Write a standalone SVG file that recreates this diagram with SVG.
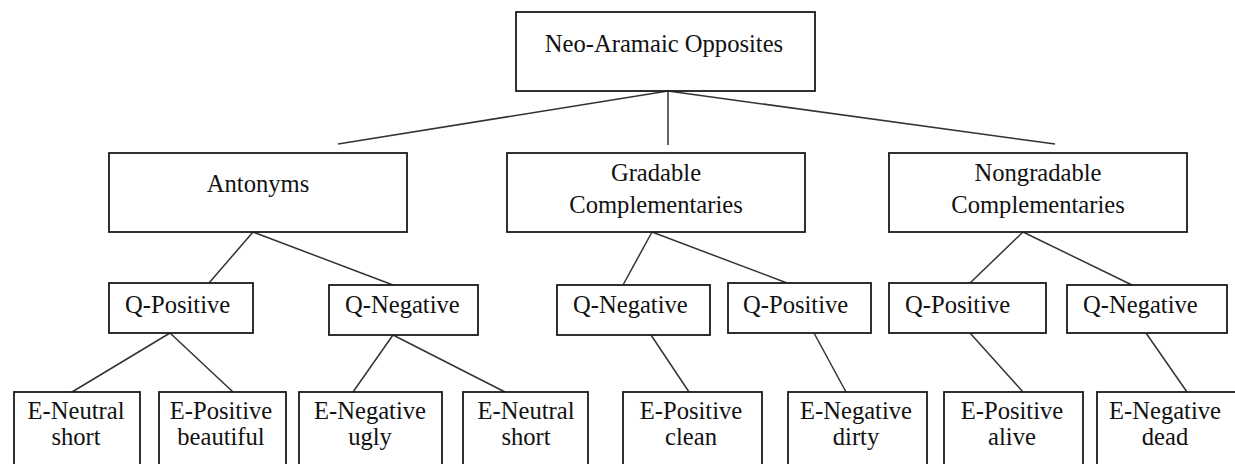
<svg xmlns="http://www.w3.org/2000/svg" width="1235" height="464" viewBox="0 0 1235 464">
<style>
rect{fill:#fff;stroke:#1a1a1a;stroke-width:1.8}
text{font-family:'Liberation Serif','DejaVu Serif',serif;font-size:24.6px;fill:#111}
.c{text-anchor:middle}
.conn line{stroke:#333;stroke-width:1.5}
</style>
<rect x="0" y="0" width="1235" height="464" style="stroke:none;fill:#fff"/>
<g class="conn" id="connectors">
<line x1="668" y1="91" x2="338" y2="144"/>
<line x1="668" y1="91" x2="668" y2="145"/>
<line x1="668" y1="91" x2="1055" y2="144"/>
<line x1="253" y1="232" x2="209" y2="283"/>
<line x1="253" y1="232" x2="393" y2="285"/>
<line x1="652" y1="232" x2="623" y2="285"/>
<line x1="652" y1="232" x2="787" y2="283"/>
<line x1="1023" y1="232" x2="970" y2="283"/>
<line x1="1023" y1="232" x2="1132" y2="285"/>
<line x1="170" y1="333" x2="72" y2="392"/>
<line x1="170" y1="333" x2="233" y2="392"/>
<line x1="393" y1="335" x2="353" y2="392"/>
<line x1="393" y1="335" x2="505" y2="392"/>
<line x1="651" y1="335" x2="689" y2="392"/>
<line x1="814" y1="333" x2="846" y2="392"/>
<line x1="970" y1="333" x2="1023" y2="392"/>
<line x1="1146" y1="333" x2="1187" y2="392"/>
</g>
<g id="root"><rect x="516" y="12" width="299" height="79"/><text class="c" x="664" y="52">Neo-Aramaic Opposites</text></g>
<g id="antonyms"><rect x="109" y="153" width="298" height="79"/><text class="c" x="258" y="192">Antonyms</text></g>
<g id="gradable"><rect x="507" y="153" width="298" height="79"/><text class="c" x="656" y="181">Gradable</text><text class="c" x="656" y="213">Complementaries</text></g>
<g id="nongradable"><rect x="889" y="153" width="298" height="79"/><text class="c" x="1038" y="181">Nongradable</text><text class="c" x="1038" y="213">Complementaries</text></g>
<g id="qpos-ant"><rect x="109" y="283" width="144" height="50"/><text x="125" y="313">Q-Positive</text></g>
<g id="qneg-ant"><rect x="329" y="285" width="149" height="50"/><text x="345" y="313">Q-Negative</text></g>
<g id="qneg-grad"><rect x="557" y="285" width="153" height="50"/><text x="573" y="313">Q-Negative</text></g>
<g id="qpos-grad"><rect x="728" y="283" width="143" height="50"/><text x="743" y="313">Q-Positive</text></g>
<g id="qpos-nongrad"><rect x="889" y="283" width="157" height="50"/><text x="905" y="313">Q-Positive</text></g>
<g id="qneg-nongrad"><rect x="1067" y="285" width="160" height="48"/><text x="1083" y="313">Q-Negative</text></g>
<g id="e-neutral-short-1"><rect x="14" y="392" width="126" height="80"/><text class="c" x="76" y="419">E-Neutral</text><text class="c" x="76" y="445">short</text></g>
<g id="e-positive-beautiful"><rect x="159" y="392" width="127" height="80"/><text class="c" x="221" y="419">E-Positive</text><text class="c" x="221" y="445">beautiful</text></g>
<g id="e-negative-ugly"><rect x="299" y="392" width="143" height="80"/><text class="c" x="370" y="419">E-Negative</text><text class="c" x="370" y="445">ugly</text></g>
<g id="e-neutral-short-2"><rect x="463" y="392" width="125" height="80"/><text class="c" x="526" y="419">E-Neutral</text><text class="c" x="526" y="445">short</text></g>
<g id="e-positive-clean"><rect x="623" y="392" width="139" height="80"/><text class="c" x="691" y="419">E-Positive</text><text class="c" x="691" y="445">clean</text></g>
<g id="e-negative-dirty"><rect x="788" y="392" width="139" height="80"/><text class="c" x="856" y="419">E-Negative</text><text class="c" x="856" y="445">dirty</text></g>
<g id="e-positive-alive"><rect x="944" y="392" width="139" height="80"/><text class="c" x="1012" y="419">E-Positive</text><text class="c" x="1012" y="445">alive</text></g>
<g id="e-negative-dead"><rect x="1097" y="392" width="141" height="80"/><text class="c" x="1165" y="419">E-Negative</text><text class="c" x="1165" y="445">dead</text></g>
</svg>
